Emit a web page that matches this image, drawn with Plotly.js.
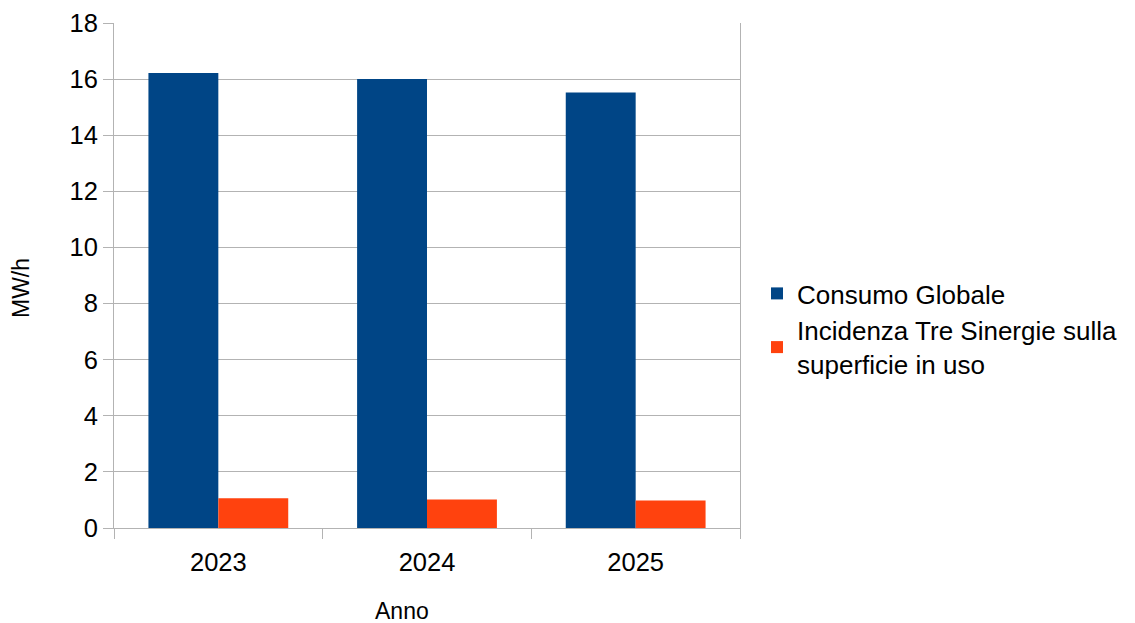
<!DOCTYPE html>
<html>
<head>
<meta charset="utf-8">
<script src="https://cdn.plot.ly/plotly-3.0.1.min.js"></script>
<style>html,body{margin:0;padding:0;background:#fff;}#chart{width:1135px;height:623px;}</style>
</head>
<body>
<div id="chart"></div>
<script>
const years = ["2023", "2024", "2025"];
const consumoGlobale = [16.22, 16.0, 15.52];
const incidenza = [1.06, 1.02, 0.98];
const seriesNames = ["Consumo Globale", "Incidenza Tre Sinergie sulla<br>superficie in uso"];
const yTicks = [0, 2, 4, 6, 8, 10, 12, 14, 16, 18];
const xTitle = "Anno";
const yTitle = "MW/h";

const font = "Liberation Sans, Arial, sans-serif";
const L = 114, R = 740, T = 23, B = 528;
const data = [
  {type: "bar", x: years, y: consumoGlobale, name: seriesNames[0], marker: {color: "#004586"}},
  {type: "bar", x: years, y: incidenza, name: seriesNames[1], marker: {color: "#ff420e"}}
];
const layout = {
  width: 1135, height: 623,
  margin: {l: L, r: 1135 - R, t: T, b: 623 - B, pad: 0},
  paper_bgcolor: "#fff", plot_bgcolor: "#fff",
  font: {family: font, color: "#000", size: 25},
  barmode: "group", bargap: 0.33, bargroupgap: 0,
  showlegend: true,
  legend: {x: (757 - L) / (R - L), xanchor: "left", y: (B - 329) / (B - T), yanchor: "middle",
           font: {family: font, size: 26, color: "#000"}, bgcolor: "rgba(0,0,0,0)", tracegroupgap: 4},
  xaxis: {
    type: "category", showgrid: false, showline: true, linecolor: "#b3b3b3", linewidth: 1,
    ticks: "outside", tickson: "boundaries", ticklen: 10, tickcolor: "#b3b3b3",
    ticklabelstandoff: 11,
    tickfont: {size: 25.5, family: font}, zeroline: false
  },
  yaxis: {
    range: [0, 18], tickvals: yTicks, showgrid: true, gridcolor: "#b3b3b3", gridwidth: 1,
    showline: true, linecolor: "#b3b3b3", mirror: true, zeroline: false,
    ticks: "outside", ticklen: 10, tickcolor: "#b3b3b3",
    tickfont: {size: 25.5, family: font}
  },
  annotations: [
    {text: xTitle, xref: "paper", yref: "paper", x: (401.5 - L) / (R - L), y: (B - 611) / (B - T),
     xanchor: "center", yanchor: "middle", showarrow: false, font: {size: 23, family: font, color: "#000"}},
    {text: yTitle, xref: "paper", yref: "paper", x: (21 - L) / (R - L), y: (B - 288) / (B - T),
     xanchor: "center", yanchor: "middle", textangle: -90, showarrow: false, font: {size: 23, family: font, color: "#000"}}
  ]
};
Plotly.newPlot("chart", data, layout, {staticPlot: true, displayModeBar: false});
</script>
</body>
</html>
